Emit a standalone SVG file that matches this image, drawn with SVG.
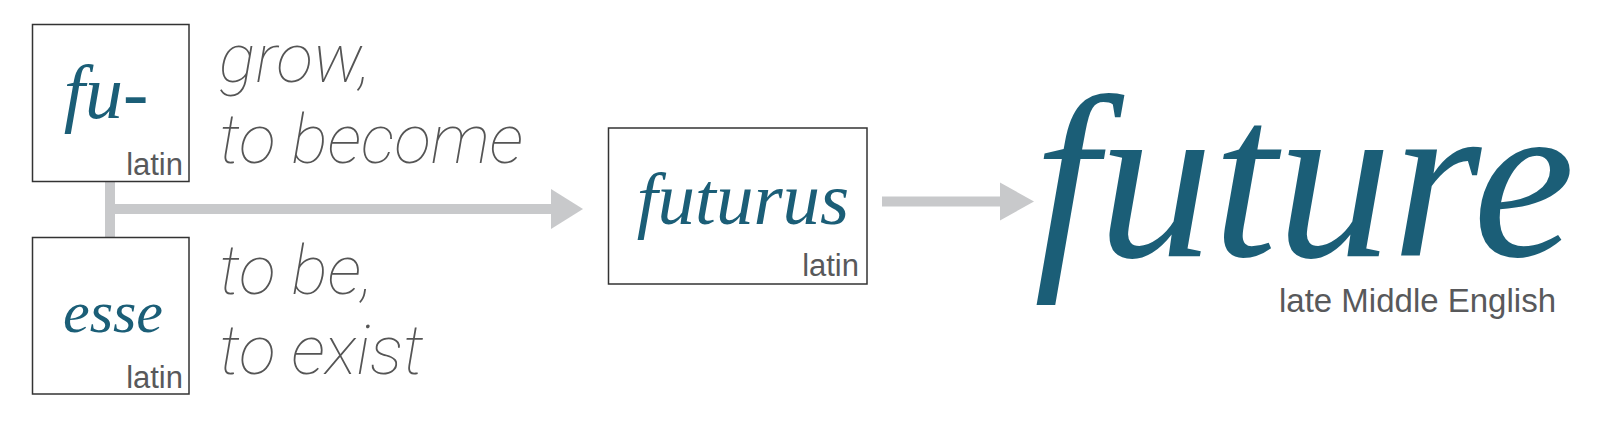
<svg xmlns="http://www.w3.org/2000/svg" width="1600" height="425" viewBox="0 0 1600 425">
<style>
.box{fill:#fff;stroke:#333;stroke-width:1.5}
.word{font-family:"Liberation Serif","Times New Roman",serif;font-style:italic;fill:#1b5e77}
.lang{font-family:"Liberation Sans",Arial,sans-serif;fill:#58595b;font-size:31px}
.gloss{font-family:Roboto,"Open Sans",sans-serif;font-weight:100;font-style:italic;fill:#555;font-size:68px}
.conn{stroke:#c8c9cb;stroke-width:10;fill:none}
.head{fill:#c8c9cb}
</style>
<rect width="1600" height="425" fill="#fff"/>
<g id="connectors">
<path class="conn" d="M110 181 V238"/>
<path class="conn" d="M110 209 H552"/>
<polygon class="head" points="551,189 583,209 551,229"/>
<path class="conn" d="M882 201.5 H1001"/>
<polygon class="head" points="1000,182.5 1034,201.5 1000,220.5"/>
</g>
<g id="node-fu">
<rect class="box" x="32.5" y="24.5" width="156.5" height="157"/>
<text class="word" x="106" y="118" font-size="76" text-anchor="middle">fu-</text>
<text class="lang" x="183" y="175" text-anchor="end">latin</text>
<text class="gloss" x="219" y="82">grow,</text>
<text class="gloss" x="219" y="163">to become</text>
</g>
<g id="node-esse">
<rect class="box" x="32.5" y="237.5" width="156.5" height="156.5"/>
<text class="word" x="113" y="332" font-size="60" text-anchor="middle">esse</text>
<text class="lang" x="183" y="388" text-anchor="end">latin</text>
<text class="gloss" x="219" y="294">to be,</text>
<text class="gloss" x="219" y="374">to exist</text>
</g>
<g id="node-futurus">
<rect class="box" x="608.5" y="128" width="258.5" height="156"/>
<text class="word" x="743" y="224" font-size="75" text-anchor="middle">futurus</text>
<text class="lang" x="859" y="276" text-anchor="end">latin</text>
</g>
<g id="node-future">
<text class="word" x="1034" y="256" font-size="230">future</text>
<text class="lang" x="1556" y="312" text-anchor="end" style="font-size:33px">late Middle English</text>
</g>
</svg>
